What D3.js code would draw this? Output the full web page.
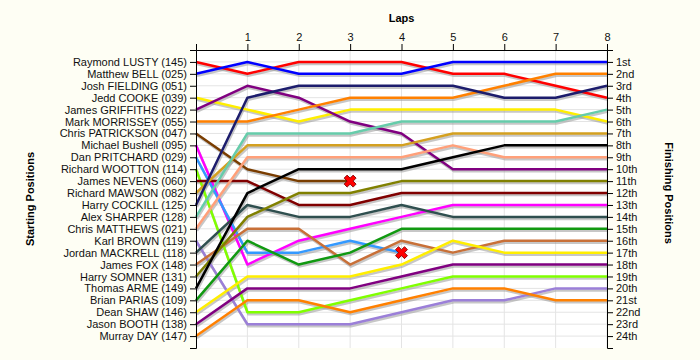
<!DOCTYPE html>
<html>
<head>
<meta charset="utf-8">
<script src="https://cdn.jsdelivr.net/npm/d3@7"></script>
<style>
  body { margin: 0; background: #fefef4; }
  svg { display: block; font-family: "Liberation Sans", Arial, sans-serif; }
  .axis text { font-size: 11px; fill: #111; }
  .title { font-size: 11px; font-weight: bold; fill: #000; }
</style>
</head>
<body>
<svg id="chart" width="700" height="360"></svg>
<script>
// starting grid, top to bottom
var drivers = ["Raymond LUSTY (145)", "Matthew BELL (025)", "Josh FIELDING (051)", "Jedd COOKE (039)",
  "James GRIFFITHS (022)", "Mark MORRISSEY (055)", "Chris PATRICKSON (047)", "Michael Bushell (095)",
  "Dan PRITCHARD (029)", "Richard WOOTTON (114)", "James NEVENS (060)", "Richard MAWSON (082)",
  "Harry COCKILL (125)", "Alex SHARPER (128)", "Chris MATTHEWS (021)", "Karl BROWN (119)",
  "Jordan MACKRELL (118)", "James FOX (148)", "Harry SOMNER (131)", "Thomas ARME (149)",
  "Brian PARIAS (109)", "Dean SHAW (146)", "Jason BOOTH (138)", "Murray DAY (147)"];

var colors = ["#ff0000", "#0000ff", "#ffffff", "#ffee00", "#800080", "#ff8000", "#7a3d00", "#ff00ff",
  "#3399ff", "#80ff00", "#800000", "#d4a020", "#1c1c6c", "#66ccaa", "#ffa07a", "#9b7fd8",
  "#2f4f4f", "#c87038", "#808000", "#000000", "#119911", "#ffee00", "#800080", "#ff8000"];

// position at lap 0..8, a short row means the driver retired, empty = did not start
var positions = [
  [1, 2, 1, 1, 1, 2, 2, 3, 4],
  [2, 1, 2, 2, 2, 1, 1, 1, 1],
  [],
  [4, 5, 6, 5, 5, 5, 5, 5, 6],
  [5, 3, 4, 6, 7, 10, 10, 10, 10],
  [6, 6, 5, 4, 4, 4, 3, 2, 2],
  [7, 10, 11, 11],
  [8, 18, 16, 15, 14, 13, 13, 13, 13],
  [9, 17, 17, 16, 17],
  [10, 22, 22, 21, 20, 19, 19, 19, 19],
  [11, 11, 13, 13, 12, 12, 12, 12, 12],
  [12, 8, 8, 8, 8, 7, 7, 7, 7],
  [13, 4, 3, 3, 3, 3, 4, 4, 3],
  [14, 7, 7, 7, 6, 6, 6, 6, 5],
  [15, 9, 9, 9, 9, 8, 9, 9, 9],
  [16, 23, 23, 23, 22, 21, 21, 20, 20],
  [17, 13, 14, 14, 13, 14, 14, 14, 14],
  [18, 15, 15, 18, 16, 17, 16, 16, 16],
  [19, 14, 12, 12, 11, 11, 11, 11, 11],
  [20, 12, 10, 10, 10, 9, 8, 8, 8],
  [21, 16, 18, 17, 15, 15, 15, 15, 15],
  [22, 19, 19, 19, 18, 16, 17, 17, 17],
  [23, 20, 20, 20, 19, 18, 18, 18, 18],
  [24, 21, 21, 22, 21, 20, 20, 21, 21]
];

var lapTicks = [1, 2, 3, 4, 5, 6, 7, 8];
var finishLabels = ["1st", "2nd", "3rd", "4th", "5th", "6th", "7th", "8th", "9th", "10th", "11th", "12th",
  "13th", "14th", "15th", "16th", "17th", "18th", "19th", "20th", "21st", "22nd", "23rd", "24th"];

var svg = d3.select("#chart");
var x = d3.scaleLinear().domain([0, 8]).range([196, 607]);
var y = d3.scaleLinear().domain([0, 25]).range([50, 348]);
var posTicks = d3.range(1, 25);

// plot background
svg.append("rect")
  .attr("x", x(0)).attr("y", y(0))
  .attr("width", x(8) - x(0)).attr("height", y(25) - y(0))
  .attr("fill", "#fff");

// grid
svg.append("g").selectAll("line").data(posTicks).join("line")
  .attr("x1", x(0)).attr("x2", x(8))
  .attr("y1", function(d){ return y(d); }).attr("y2", function(d){ return y(d); })
  .attr("stroke", "#e4e4e4");
svg.append("g").selectAll("line").data(lapTicks).join("line")
  .attr("x1", function(d){ return x(d); }).attr("x2", function(d){ return x(d); })
  .attr("y1", y(0)).attr("y2", y(25))
  .attr("stroke", "#e4e4e4");

var line = d3.line()
  .x(function(d, i){ return x(i); })
  .y(function(d){ return y(d); });

var runners = positions.map(function(p, i){ return {p: p, c: colors[i]}; })
  .filter(function(r){ return r.p.length > 0; });

// shadows first
svg.append("g").attr("transform", "translate(1,2)")
  .selectAll("path").data(runners).join("path")
  .attr("d", function(r){ return line(r.p); })
  .attr("fill", "none").attr("stroke", "#999").attr("stroke-opacity", 0.55)
  .attr("stroke-width", 2.5);

svg.append("g").selectAll("path").data(runners).join("path")
  .attr("d", function(r){ return line(r.p); })
  .attr("fill", "none").attr("stroke", function(r){ return r.c; })
  .attr("stroke-width", 2.5).attr("stroke-linejoin", "round");

// retirements
var out = runners.filter(function(r){ return r.p.length < 9; });
svg.append("g").selectAll("path").data(out).join("path")
  .attr("transform", function(r){
    var i = r.p.length - 1;
    return "translate(" + x(i) + "," + y(r.p[i]) + ") rotate(45)";
  })
  .attr("d", d3.symbol(d3.symbolCross, 90))
  .attr("fill", "#f00").attr("stroke", "#700").attr("stroke-width", 0.8);

// axes
svg.append("g").attr("class", "axis")
  .attr("transform", "translate(" + x(0) + ",0)")
  .call(d3.axisLeft(y).tickValues(posTicks).tickSizeOuter(6)
    .tickFormat(function(d){ return drivers[d - 1]; }));

svg.append("g").attr("class", "axis")
  .attr("transform", "translate(" + x(8) + ",0)")
  .call(d3.axisRight(y).tickValues(posTicks).tickSizeOuter(6)
    .tickFormat(function(d){ return finishLabels[d - 1]; }));

svg.append("g").attr("class", "axis")
  .attr("transform", "translate(0," + y(0) + ")")
  .call(d3.axisTop(x).tickValues(lapTicks).tickSizeOuter(6).tickFormat(d3.format("d")));

svg.selectAll(".axis .domain, .axis line").attr("stroke", "#000");

// titles
svg.append("text").attr("class", "title")
  .attr("x", x(4)).attr("y", 22).attr("text-anchor", "middle").text("Laps");
svg.append("text").attr("class", "title")
  .attr("transform", "translate(34," + y(12.5) + ") rotate(-90)")
  .attr("text-anchor", "middle").text("Starting Positions");
svg.append("text").attr("class", "title")
  .attr("transform", "translate(665," + y(12) + ") rotate(90)")
  .attr("text-anchor", "middle").text("Finishing Positions");
</script>
</body>
</html>
